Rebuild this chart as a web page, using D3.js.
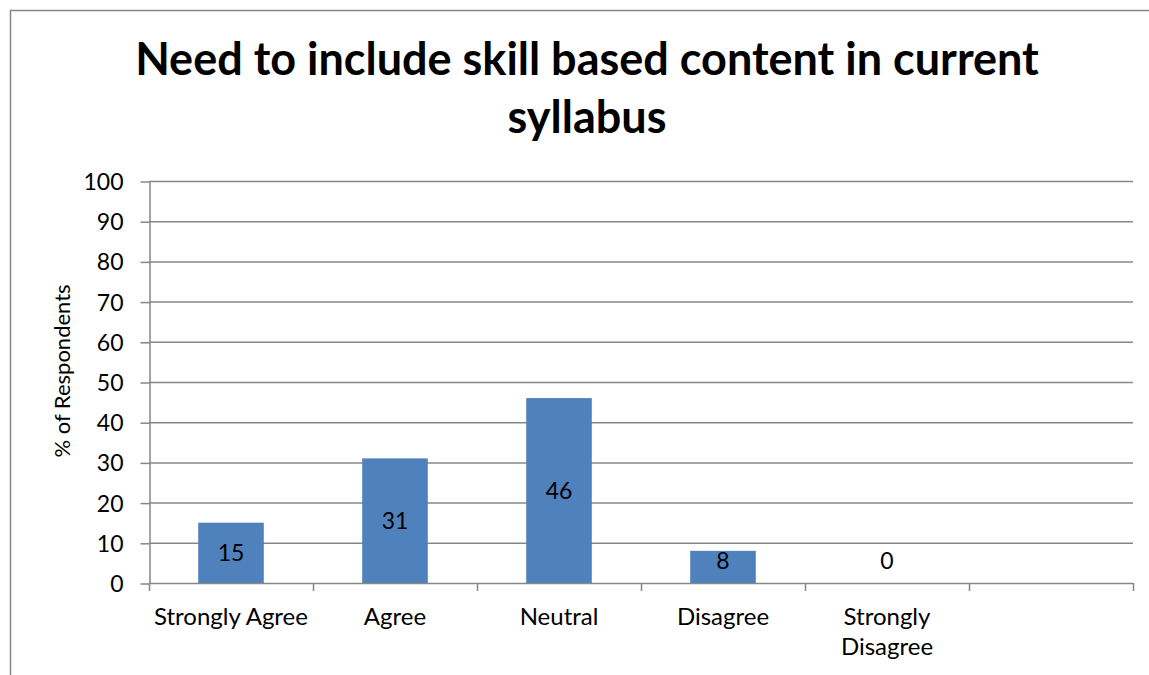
<!DOCTYPE html>
<html>
<head>
<meta charset="utf-8">
<script src="https://cdn.jsdelivr.net/npm/d3@7/dist/d3.min.js"></script>
<style>
  html, body { margin: 0; padding: 0; background: #fff; }
  svg { display: block; }
  text { font-family: Lato, "Open Sans", sans-serif; fill: #000; }
</style>
</head>
<body>
<svg id="chart" width="1149" height="675"></svg>
<script>
const titleLines = ["Need to include skill based content in current", "syllabus"];
const categories = ["Strongly Agree", "Agree", "Neutral", "Disagree", "Strongly Disagree", ""];
const values = [15, 31, 46, 8, 0];
const yTicks = [0, 10, 20, 30, 40, 50, 60, 70, 80, 90, 100];
const yTitle = "% of Respondents";

const svg = d3.select("#chart");
const W = 1149, H = 675;
const plot = { left: 149, right: 1133, top: 181, bottom: 583 };
const gray = "#878787";

// chart border (cropped on right and bottom)
svg.append("path")
  .attr("d", `M10.5,${H} V10.5 H${W}`)
  .attr("fill", "none").attr("stroke", gray).attr("stroke-width", 1.5);

// title
const title = svg.append("text")
  .attr("text-anchor", "middle")
  .style("font-weight", "bold").style("font-size", "45px");
titleLines.forEach((t, i) => {
  title.append("tspan").attr("x", 587).attr("y", 75 + i * 58).text(t);
});

const x = d3.scaleBand().domain(categories).range([plot.left, plot.right]).paddingInner(0).paddingOuter(0);
const y = d3.scaleLinear().domain([0, 100]).range([plot.bottom, plot.top]);

// gridlines
svg.append("g").selectAll("line").data(yTicks.filter(d => d > 0)).join("line")
  .attr("x1", plot.left).attr("x2", plot.right)
  .attr("y1", d => y(d) + 0.5).attr("y2", d => y(d) + 0.5)
  .attr("stroke", gray).attr("stroke-width", 1.5);

// y axis
const yAxis = d3.axisLeft(y).tickValues(yTicks).tickSize(9).tickPadding(17).tickSizeOuter(0);
const gy = svg.append("g").attr("transform", `translate(${plot.left + 0.5},0.5)`).call(yAxis);
gy.select(".domain").attr("stroke", gray).attr("stroke-width", 1.5);
gy.selectAll(".tick line").attr("stroke", gray).attr("stroke-width", 1.5);
gy.selectAll(".tick text").style("font-size", "23px").style("font-family", "Lato, sans-serif").attr("fill", "#000").attr("dy", "0.35em");

// bars
const barW = x.step() * 0.4;
svg.append("g").selectAll("rect").data(values).join("rect")
  .attr("x", (d, i) => x(categories[i]) + (x.step() - barW) / 2)
  .attr("width", barW)
  .attr("y", d => y(d))
  .attr("height", d => y(0) - y(d))
  .attr("fill", "#4F81BD");

// x axis line and ticks at category boundaries
const boundaries = categories.map(c => x(c)).concat([plot.right]);
svg.append("line")
  .attr("x1", plot.left).attr("x2", plot.right)
  .attr("y1", y(0) + 0.5).attr("y2", y(0) + 0.5)
  .attr("stroke", gray).attr("stroke-width", 1.5);
svg.append("g").selectAll("line").data(boundaries).join("line")
  .attr("x1", d => d + 0.5).attr("x2", d => d + 0.5)
  .attr("y1", y(0)).attr("y2", y(0) + 8)
  .attr("stroke", gray).attr("stroke-width", 1.5);

// x labels (wrapped)
const xl = svg.append("g").selectAll("text").data(categories).join("text")
  .attr("text-anchor", "middle").style("font-size", "24px");
xl.each(function(c) {
  const t = d3.select(this);
  const cx = x(c) + x.step() / 2;
  const words = c.split(" ");
  let lines = [];
  let cur = "";
  const probe = svg.append("text").style("font-size", "24px");
  words.forEach(w => {
    const test = cur ? cur + " " + w : w;
    probe.text(test);
    if (cur && probe.node().getComputedTextLength() > x.step() - 2) { lines.push(cur); cur = w; }
    else cur = test;
  });
  if (cur) lines.push(cur);
  probe.remove();
  lines.forEach((l, i) => t.append("tspan").attr("x", cx).attr("y", 625 + i * 30).text(l));
});

// data labels
svg.append("g").selectAll("text").data(values).join("text")
  .attr("text-anchor", "middle").style("font-size", "23px")
  .attr("x", (d, i) => x(categories[i]) + x.step() / 2)
  .attr("y", d => Math.min((y(d) + y(0)) / 2, y(0) - 22))
  .attr("dy", "0.35em")
  .text(d => d);

// y title
svg.append("text")
  .attr("transform", `translate(70,371) rotate(-90)`)
  .attr("text-anchor", "middle").style("font-size", "22px")
  .text(yTitle);
</script>
</body>
</html>
